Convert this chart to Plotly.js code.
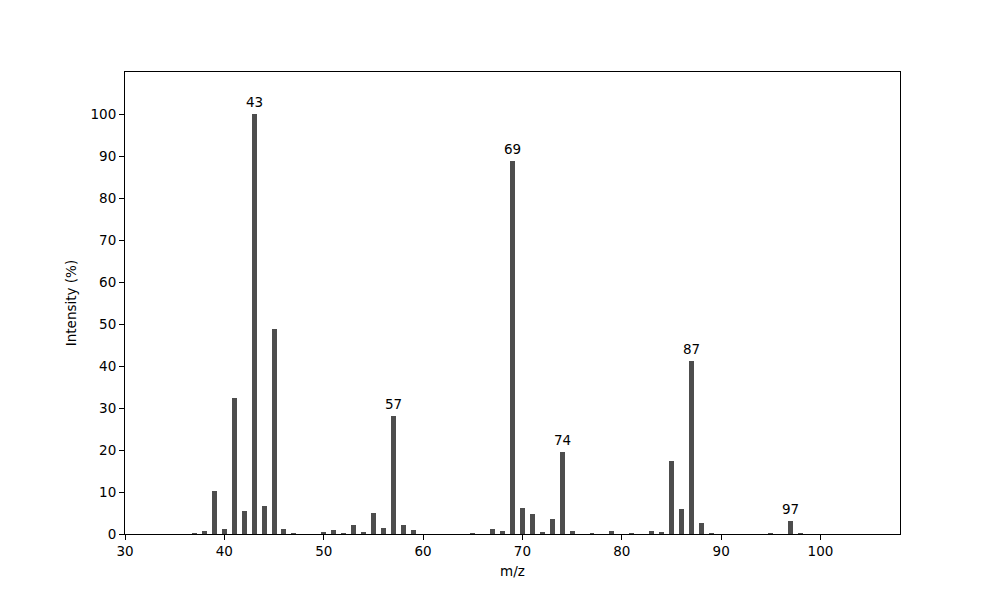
<!DOCTYPE html>
<html>
<head>
<meta charset="utf-8">
<script src="https://cdn.plot.ly/plotly-3.0.1.min.js"></script>
<style>html,body{margin:0;padding:0;background:#fff;}#chart{width:1000px;height:600px;}</style>
</head>
<body>
<div id="chart"></div>
<script>
const mz = [37,38,39,40,41,42,43,44,45,46,47,50,51,52,53,54,55,56,57,58,59,65,67,68,69,70,71,72,73,74,75,77,79,81,83,84,85,86,87,88,89,95,97,98];
const intensity = [0.3,0.7,10.2,1.2,32.4,5.5,100,6.7,48.8,1.2,0.3,0.5,0.95,0.3,2.1,0.5,5.0,1.4,28.1,2.1,0.95,0.25,1.2,0.7,88.8,6.2,4.8,0.5,3.6,19.5,0.7,0.25,0.7,0.25,0.7,0.5,17.4,6.0,41.2,2.6,0.25,0.25,3.1,0.25];
const labelledPeaks = [43,57,69,74,87,97];
const yTicks = [0,10,20,30,40,50,60,70,80,90,100];
const xTicks = [30,40,50,60,70,80,90,100];

const fontFamily = 'DejaVu Sans, sans-serif';
const annotations = labelledPeaks.map(p => ({
  x: p, y: intensity[mz.indexOf(p)], xref: 'x', yref: 'y',
  text: String(p), showarrow: false, yanchor: 'bottom', yshift: 2,
  font: {family: fontFamily, size: 13.5, color: '#000'}
}));

const trace = {
  type: 'bar', x: mz, y: intensity, width: 0.5,
  marker: {color: '#4d4d4d', line: {width: 0}},
  hoverinfo: 'x+y'
};

const axisCommon = {
  showgrid: false, zeroline: false, showline: true, mirror: true,
  linecolor: '#000', linewidth: 1, ticks: 'outside', ticklen: 5,
  tickwidth: 1, tickcolor: '#000',
  tickfont: {family: fontFamily, size: 13.5, color: '#000'}
};

const layout = {
  width: 1000, height: 600,
  margin: {l: 125, r: 100, t: 72, b: 66},
  paper_bgcolor: '#fff', plot_bgcolor: '#fff',
  showlegend: false,
  bargap: 0,
  xaxis: Object.assign({}, axisCommon, {
    range: [30, 108], tickmode: 'array', tickvals: xTicks,
    title: {text: 'm/z', font: {family: fontFamily, size: 13.5, color: '#000'}, standoff: 8}
  }),
  yaxis: Object.assign({}, axisCommon, {
    range: [0, 110], tickmode: 'array', tickvals: yTicks,
    title: {text: 'Intensity (%)', font: {family: fontFamily, size: 13.5, color: '#000'}, standoff: 10}
  }),
  annotations: annotations
};

Plotly.newPlot('chart', [trace], layout, {displayModeBar: false, staticPlot: true});
</script>
</body>
</html>
